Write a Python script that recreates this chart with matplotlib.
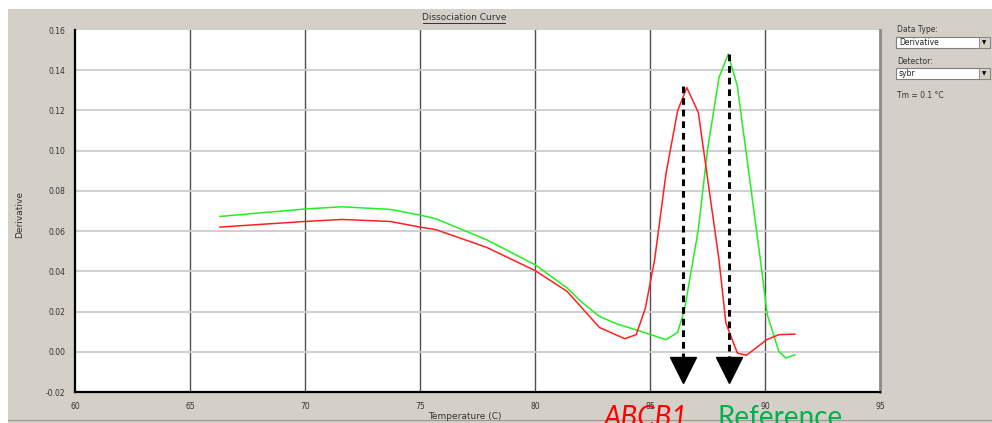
import matplotlib.pyplot as plt
from matplotlib.lines import Line2D
from matplotlib.patches import Rectangle

# ── Data ─────────────────────────────────────────────────────────────────────
REF_TEMP = [66.3, 70.0, 71.6, 73.7, 75.0, 75.7, 77.9, 80.0, 81.4, 82.0, 82.8,
            83.55, 84.4, 85.7, 86.2, 86.5, 87.1, 87.5, 88.0, 88.4, 88.8, 89.8,
            90.1, 90.6, 90.9, 91.3]
REF_DERIV = [0.0673, 0.0710, 0.0721, 0.0708, 0.0680, 0.0661, 0.0557, 0.0433,
             0.0317, 0.0250, 0.0176, 0.0139, 0.0109, 0.0060, 0.0096, 0.0209,
             0.0607, 0.1004, 0.1364, 0.1480, 0.1319, 0.0457, 0.0184, 0.0002,
             -0.0031, -0.0015]

ABC_TEMP = [66.3, 70.0, 71.6, 73.7, 75.0, 75.7, 77.9, 80.0, 81.4, 82.8, 83.9,
            84.4, 84.8, 85.2, 85.7, 86.2, 86.6, 87.1, 88.0, 88.3, 88.8, 89.2,
            90.07, 90.6, 91.3]
ABC_DERIV = [0.0620, 0.0648, 0.0658, 0.0648, 0.0620, 0.0607, 0.0519, 0.0404,
             0.0300, 0.0121, 0.0065, 0.0085, 0.0217, 0.0457, 0.0889, 0.1198,
             0.1314, 0.1190, 0.0457, 0.0143, -0.0007, -0.0017, 0.0060, 0.0085,
             0.0088]

PEAK_TEMP = [86.45, 88.45]
PEAK_TOP = [0.132, 0.148]
ARROW_BASE = -0.0093

X_TICKS = [60, 65, 70, 75, 80, 85, 90, 95]
Y_TICKS = [-0.02, 0.00, 0.02, 0.04, 0.06, 0.08, 0.10, 0.12, 0.14, 0.16]

W, H = 992, 423
BG = "#d4d0c8"


def fx(px):
    return px / W


def fy(py):
    return 1 - py / H


plt.rcParams.update({
    "font.family": ["DejaVu Sans"],
    "figure.dpi": 100,
})

fig = plt.figure(figsize=(W / 100, H / 100), facecolor="white")
# gray window body (white strip along top and left edge)
fig.add_artist(Rectangle((fx(8), 0), 1 - fx(8), fy(9), transform=fig.transFigure,
                         facecolor=BG, edgecolor="none", zorder=0))
fig.add_artist(Line2D([fx(8), 1], [fy(420), fy(420)], transform=fig.transFigure,
                      color="#9a9890", lw=0.8))

ax = fig.add_axes([fx(75), fy(392), fx(880 - 75), (392 - 30) / H])
ax.set_facecolor("white")
ax.set_xlim(60, 95)
ax.set_ylim(-0.02, 0.16)

# grid: dark verticals, light horizontals
for t in X_TICKS[1:-1]:
    ax.axvline(t, color="#505050", lw=1.0, zorder=1)
for v in Y_TICKS[1:-1]:
    ax.axhline(v, color="#cccccc", lw=1.3, zorder=1)

ax.plot(REF_TEMP, REF_DERIV, color="#22ee22", lw=1.1, zorder=3)
ax.plot(ABC_TEMP, ABC_DERIV, color="#ff2020", lw=1.1, zorder=3)

# dashed markers at the melting peaks
for t, top in zip(PEAK_TEMP, PEAK_TOP):
    ax.plot([t, t], [top, ARROW_BASE], color="black", lw=2.2,
            ls=(0, (2.2, 1.6)), zorder=4)
ax.plot(PEAK_TEMP, [ARROW_BASE] * len(PEAK_TEMP), ls="none", marker="v",
        ms=19, color="black", zorder=5)

ax.set_xticks(X_TICKS)
ax.set_yticks(Y_TICKS)
ax.set_xticklabels([str(t) for t in X_TICKS])
ax.set_yticklabels([f"{v:.2f}" for v in Y_TICKS])
ax.tick_params(length=0, labelsize=5.5, labelcolor="#333333")
ax.tick_params(axis="x", pad=7)
ax.tick_params(axis="y", pad=7)
for side in ("left", "bottom"):
    ax.spines[side].set_color("black")
    ax.spines[side].set_linewidth(1.6)
ax.spines["top"].set_visible(False)
ax.spines["right"].set_color("#8a8a8a")
ax.spines["right"].set_linewidth(2.0)

fig.text(fx(20), fy(215), "Derivative", rotation=90, ha="center", va="center",
         fontsize=6.5, color="#333333")
fig.text(fx(465), fy(416), "Temperature (C)", ha="center", va="center",
         fontsize=6.5, color="#333333")

# underlined title
fig.text(fx(464), fy(18), "Dissociation Curve", ha="center", va="center",
         fontsize=6.5, color="#333333")
fig.add_artist(Line2D([fx(423), fx(505)], [fy(23), fy(23)],
                      transform=fig.transFigure, color="#333333", lw=0.7))

# side panel controls
def dropdown(top, label):
    fig.add_artist(Rectangle((fx(896), fy(top + 11)), fx(94), 11 / H,
                             transform=fig.transFigure, facecolor="white",
                             edgecolor="#808080", lw=0.8))
    fig.add_artist(Rectangle((fx(979), fy(top + 11)), fx(11), 11 / H,
                             transform=fig.transFigure, facecolor=BG,
                             edgecolor="#808080", lw=0.6))
    fig.text(fx(984.5), fy(top + 6), "▼", ha="center", va="center",
             fontsize=4, color="black")
    fig.text(fx(899), fy(top + 5.5), label, ha="left", va="center",
             fontsize=5.5, color="#222222")


fig.text(fx(897), fy(30), "Data Type:", ha="left", va="center", fontsize=5.5,
         color="#333333")
dropdown(37, "Derivative")
fig.text(fx(897), fy(62), "Detector:", ha="left", va="center", fontsize=5.5,
         color="#333333")
dropdown(68, "sybr")
fig.text(fx(897), fy(95), "Tm = 0.1 °C", ha="left", va="center", fontsize=5.5,
         color="#333333")

# gene labels under the peaks (cut by the bottom edge, as in the original)
fig.text(fx(646), fy(426), "ABCB1", ha="center", va="baseline", fontsize=20,
         style="italic", color="#ff0000", family=["Lato", "DejaVu Sans"])
fig.text(fx(780), fy(426), "Reference", ha="center", va="baseline",
         fontsize=20, color="#00b050", family=["Lato", "DejaVu Sans"])

fig.savefig("out.png", dpi=100)
